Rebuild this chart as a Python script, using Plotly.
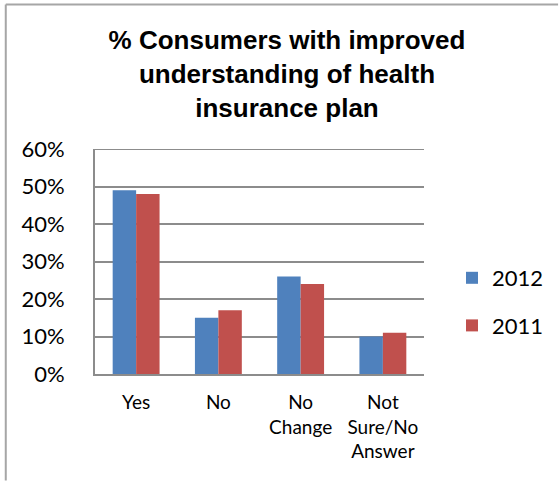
import plotly.graph_objects as go

# Survey responses (share of consumers)
categories = ["Yes", "No", "No<br>Change", "Not<br>Sure/No<br>Answer"]
values_2012 = [0.49, 0.15, 0.26, 0.10]
values_2011 = [0.48, 0.17, 0.24, 0.11]
series_names = ["2012", "2011"]
y_ticks = [0, 0.1, 0.2, 0.3, 0.4, 0.5, 0.6]

W, H = 560, 481
ML, MR, MT, MB = 95, 135, 149, 107
GRID = "#8c8c8c"

fig = go.Figure()
fig.add_trace(go.Bar(x=categories, y=values_2012, name=series_names[0],
                     marker=dict(color="#4F81BD", line=dict(width=0)),
                     legendgroup="a"))
fig.add_trace(go.Bar(x=categories, y=values_2011, name=series_names[1],
                     marker=dict(color="#C0504D", line=dict(width=0)),
                     legendgroup="b"))

pw = W - ML - MR
ph = H - MT - MB


def px_x(x):
    return (x - ML) / pw


def px_y(y):
    return (H - MB - y) / ph


# outer frame: top and left edges
frame = "#a6a6a6"
fig.add_shape(type="line", xref="paper", yref="paper",
              x0=px_x(5.5), x1=px_x(W - 0.5), y0=px_y(4.5), y1=px_y(4.5),
              line=dict(color=frame, width=2), layer="above")
fig.add_shape(type="line", xref="paper", yref="paper",
              x0=px_x(5.5), x1=px_x(5.5), y0=px_y(4.5), y1=px_y(H - 0.5),
              line=dict(color=frame, width=2), layer="above")

# gridline at the top of the value range
fig.add_shape(type="line", xref="paper", yref="y",
              x0=0, x1=1, y0=y_ticks[-1], y1=y_ticks[-1],
              line=dict(color=GRID, width=2), layer="below")

fig.update_layout(
    width=W, height=H,
    margin=dict(l=ML, r=MR, t=MT, b=MB),
    paper_bgcolor="white", plot_bgcolor="white",
    barmode="group", bargap=0.43, bargroupgap=0,
    title=dict(
        text="% Consumers with improved<br>understanding of health<br>insurance plan",
        font=dict(family="Liberation Sans, Arial", size=26, color="black", weight="bold"),
        x=287 / W, xanchor="center", xref="container",
        y=1 - 49 / H, yanchor="top", yref="container"),
    legend=dict(
        x=px_x(452), xanchor="left", y=px_y(257), yanchor="top",
        font=dict(family="Lato", size=22, color="black"),
        traceorder="grouped", tracegroupgap=16,
        bgcolor="rgba(0,0,0,0)"),
    font=dict(family="Lato", color="black"),
)

fig.update_xaxes(
    showline=True, linecolor=GRID, linewidth=2,
    showgrid=False, ticks="",
    tickfont=dict(family="Lato", size=19, color="black"),
    ticklabelstandoff=10, fixedrange=True)
fig.update_yaxes(
    range=[0, 0.6], tickvals=y_ticks, tickformat=".0%",
    showline=True, linecolor=GRID, linewidth=2,
    showgrid=True, gridcolor=GRID, gridwidth=2,
    zeroline=False, ticks="",
    tickfont=dict(family="Lato", size=22, color="black"),
    ticklabelstandoff=24, fixedrange=True)

fig.write_html("out.html")
